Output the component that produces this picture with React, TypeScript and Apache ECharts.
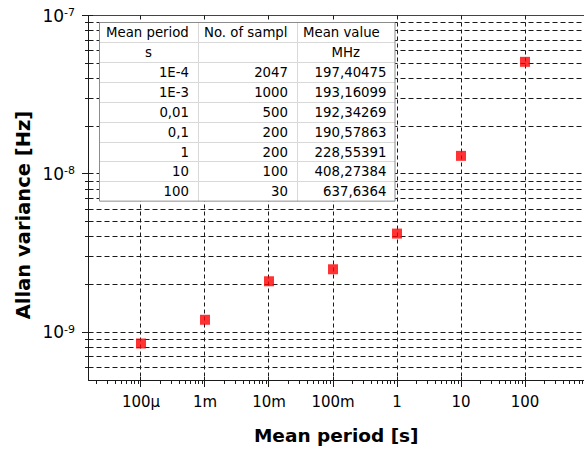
import React, { useEffect, useRef } from 'react';
import * as echarts from 'echarts';

// ---- data ----
const periods = [1e-4, 1e-3, 1e-2, 1e-1, 1, 10, 100];
const allanVariance = [8.5e-10, 1.2e-9, 2.1e-9, 2.5e-9, 4.2e-9, 1.3e-8, 5.1e-8];

const xTickExponents = [-4, -3, -2, -1, 0, 1, 2];
const xTickLabels = ['100μ', '1m', '10m', '100m', '1', '10', '100'];
const xMinorDecades = [-5, -4, -3, -2, -1, 0, 1, 2];
const yDecades = [-10, -9, -8];
const yMajorExponents = [-9, -8, -7];
const minorMultipliers = [2, 3, 4, 5, 6, 7, 8, 9];

const xMin = 1.513e-5;
const xMax = 835;
const yMin = 5e-10;
const yMax = 1e-7;

const tableHeader = ['Mean period', 'No. of sampl', 'Mean value'];
const tableUnits = ['s', '', 'MHz'];
const tablePeriods = ['1E-4', '1E-3', '0,01', '0,1', '1', '10', '100'];
const tableSamples = ['2047', '1000', '500', '200', '200', '100', '30'];
const tableMeans = ['197,40475', '193,16099', '192,34269', '190,57863', '228,55391', '408,27384', '637,6364'];

const FONT = "'DejaVu Sans', Verdana, sans-serif";

// kinds: 0 hgrid, 1 vgrid, 2 y major tick, 3 y minor tick, 4 x major tick, 5 x minor tick
function buildGuides(): number[][] {
  const items: number[][] = [];
  for (const e of yDecades) {
    for (const m of [1, ...minorMultipliers]) {
      const v = m * Math.pow(10, e);
      if (v <= yMin * 1.0001 || v >= yMax * 0.9999) continue;
      items.push([xMin, v, 0]);
      items.push([xMin, v, m === 1 ? 2 : 3]);
    }
  }
  for (const e of yMajorExponents) {
    if (Math.pow(10, e) >= yMax * 0.9999) items.push([xMin, Math.pow(10, e), 2]);
  }
  for (const e of xTickExponents) {
    items.push([Math.pow(10, e), yMin, 1]);
    items.push([Math.pow(10, e), yMin, 4]);
  }
  for (const e of xMinorDecades) {
    for (const m of minorMultipliers) {
      const v = m * Math.pow(10, e);
      if (v < xMin || v > xMax) continue;
      items.push([v, yMin, 5]);
    }
  }
  return items;
}

function buildTable(): any[] {
  const tx = 99.5;
  const ty = 22.5;
  const colW = [98, 99, 98.5];
  const rowH = 19.85;
  const nRows = 2 + tablePeriods.length;
  const W = colW[0] + colW[1] + colW[2];
  const H = rowH * nRows;
  const z = 100;
  const els: any[] = [];
  els.push({
    type: 'rect', z,
    shape: { x: tx, y: ty, width: W, height: H },
    style: { fill: '#ffffff', stroke: 'none' },
  });
  for (let r = 1; r < nRows; r++) {
    const y = Math.round(ty + r * rowH) + 0.5;
    els.push({ type: 'line', z: z + 1, shape: { x1: tx, y1: y, x2: tx + W, y2: y }, style: { stroke: '#d9d9d9', lineWidth: 1 } });
  }
  const colX = [tx, tx + colW[0], tx + colW[0] + colW[1], tx + W];
  for (let c = 1; c < 3; c++) {
    const x = Math.round(colX[c]) + 0.5;
    els.push({ type: 'line', z: z + 1, shape: { x1: x, y1: ty, x2: x, y2: ty + H }, style: { stroke: '#d9d9d9', lineWidth: 1 } });
  }
  els.push({
    type: 'rect', z: z + 2,
    shape: { x: tx, y: ty, width: W, height: H },
    style: { fill: 'none', stroke: '#8c8c8c', lineWidth: 1 },
  });
  const font = `13.3px ${FONT}`;
  const txt = (text: string, x: number, y: number, align: string) => ({
    type: 'text', z: z + 3, x, y,
    style: { text, font, fill: '#000', align, verticalAlign: 'middle' },
  });
  const rc = (r: number) => ty + r * rowH + rowH / 2 + 0.5;
  tableHeader.forEach((h, c) => els.push(txt(h, colX[c] + 6.5, rc(0), 'left')));
  tableUnits.forEach((u, c) => {
    if (u) els.push(txt(u, (colX[c] + colX[c + 1]) / 2, rc(1), 'center'));
  });
  const cols = [tablePeriods, tableSamples, tableMeans];
  cols.forEach((col, c) => {
    col.forEach((v, i) => els.push(txt(v, colX[c + 1] - 8.5, rc(2 + i), 'right')));
  });
  return els;
}

export default function App() {
  const ref = useRef<HTMLDivElement>(null);
  useEffect(() => {
    if (!ref.current) return;
    const chart = echarts.init(ref.current, undefined, { renderer: 'svg' });
    const crisp = (n: number) => Math.round(n - 0.5) + 0.5;
    const hidden = { show: false };
    chart.setOption({
      animation: false,
      backgroundColor: '#ffffff',
      grid: {
        left: 88.5, top: 15.5, right: 0, bottom: 68.5,
        show: false,
      },
      xAxis: [
        {
          type: 'log', logBase: 10, min: xMin, max: xMax,
          name: 'Mean period [s]', nameLocation: 'middle', nameGap: 46,
          nameTextStyle: { fontFamily: FONT, fontSize: 18.5, fontWeight: 'bold', color: '#000' },
          axisLine: { show: true, lineStyle: { color: '#1a1a1a', width: 1 } },
          axisTick: hidden,
          splitLine: hidden,
          minorTick: hidden,
          axisLabel: {
            margin: 14, fontFamily: FONT, fontSize: 15, color: '#000',
            showMinLabel: false, showMaxLabel: false,
            formatter: (v: number) => {
              const e = Math.round(Math.log10(v));
              const i = xTickExponents.indexOf(e);
              return i >= 0 ? xTickLabels[i] : '';
            },
          },
        },
        {
          type: 'log', logBase: 10, min: xMin, max: xMax, position: 'top',
          axisLine: { show: true, lineStyle: { color: '#444', width: 1 } },
          axisTick: hidden, splitLine: hidden, minorTick: hidden, axisLabel: hidden,
        },
      ],
      yAxis: {
        type: 'log', logBase: 10, min: yMin, max: yMax,
        axisLine: { show: true, lineStyle: { color: '#1a1a1a', width: 1 } },
        axisTick: hidden,
        splitLine: hidden,
        minorTick: hidden,
        axisLabel: {
          margin: 13.5, color: '#000', showMinLabel: false, showMaxLabel: true,
          formatter: (v: number) => {
            const e = Math.round(Math.log10(v));
            return `{b|10}{s|${e}}`;
          },
          rich: {
            b: { fontFamily: FONT, fontSize: 17, lineHeight: 17, color: '#000' },
            s: { fontFamily: FONT, fontSize: 11, lineHeight: 9, verticalAlign: 'top', color: '#000' },
          },
        },
      },
      graphic: [
        {
          type: 'text', x: 23, y: 215, rotation: Math.PI / 2, z: 50,
          style: { text: 'Allan variance [Hz]', font: `bold 19.5px ${FONT}`, fill: '#000', align: 'center', verticalAlign: 'middle' },
        },
        ...buildTable(),
      ],
      series: [
        {
          type: 'custom',
          z: 1,
          silent: true,
          clip: false,
          xAxisIndex: 0,
          data: buildGuides(),
          encode: { x: 0, y: 1 },
          renderItem: (params: any, api: any) => {
            const cs = params.coordSys;
            const kind = api.value(2);
            const p = api.coord([api.value(0), api.value(1)]);
            const left = cs.x;
            const bottom = cs.y + cs.height;
            let shape: any;
            let dash: number[] | undefined;
            if (kind === 0) {
              const y = crisp(p[1]);
              shape = { x1: left, y1: y, x2: cs.x + cs.width, y2: y };
              dash = [5, 3];
            } else if (kind === 1) {
              const x = crisp(p[0]);
              shape = { x1: x, y1: cs.y, x2: x, y2: bottom };
              dash = [4, 3];
            } else if (kind === 2) {
              const y = crisp(p[1]);
              shape = { x1: left - 6.5, y1: y, x2: left + 4.5, y2: y };
            } else if (kind === 3) {
              const y = crisp(p[1]);
              shape = { x1: left - 3.5, y1: y, x2: left + 4.5, y2: y };
            } else if (kind === 4) {
              const x = crisp(p[0]);
              shape = { x1: x, y1: bottom - 3, x2: x, y2: bottom + 7 };
            } else {
              const x = crisp(p[0]);
              shape = { x1: x, y1: bottom, x2: x, y2: bottom + 4 };
            }
            const style: any = { stroke: '#1a1a1a', lineWidth: 1 };
            if (dash) style.lineDash = dash;
            return { type: 'line', shape, style };
          },
        },
        {
          type: 'scatter',
          z: 5,
          xAxisIndex: 0,
          symbol: 'rect',
          symbolSize: 10,
          itemStyle: { color: '#ff0000' },
          data: periods.map((p, i) => [p, allanVariance[i]]),
        },
      ],
    });
    return () => chart.dispose();
  }, []);
  return <div ref={ref} style={{ position: 'absolute', left: 0, top: 0, width: 584, height: 450 }} />;
}
